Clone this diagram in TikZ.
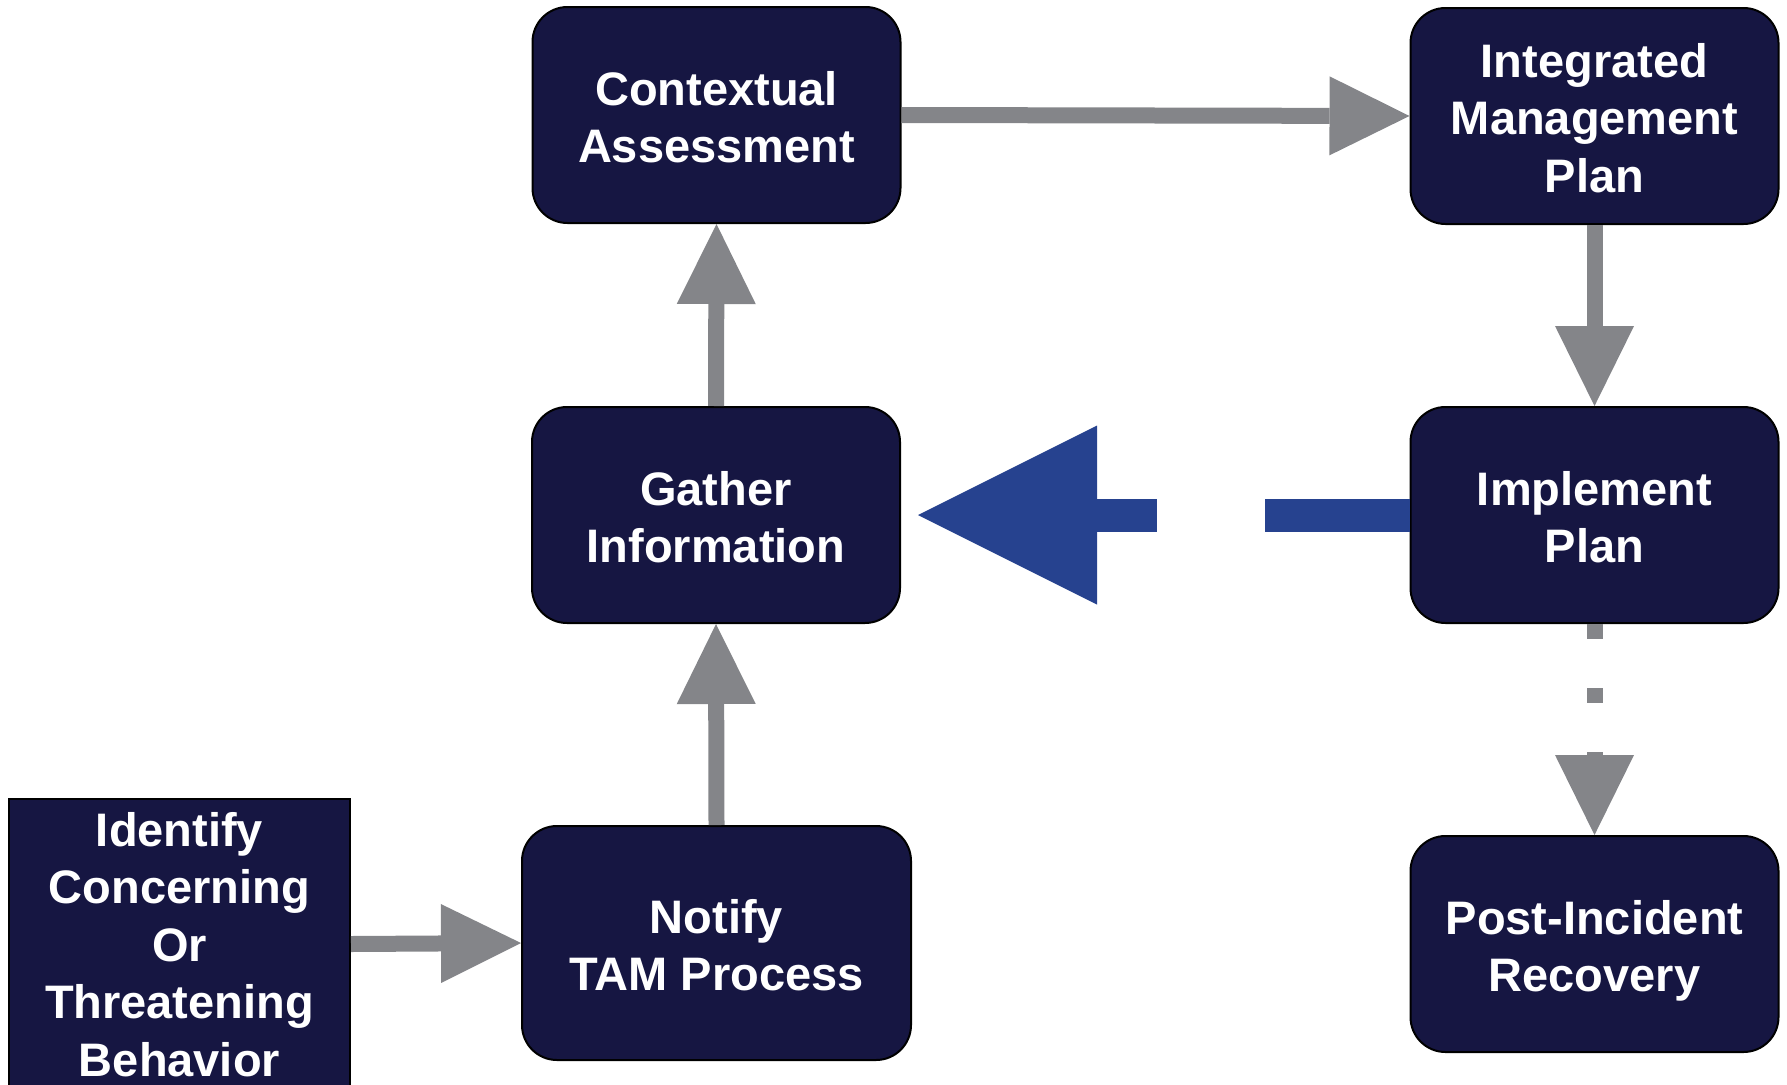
\documentclass[tikz,border=0pt]{standalone}
\usepackage{fontspec}
\setmainfont{Liberation Sans}
\usetikzlibrary{arrows.meta}
\definecolor{navy}{RGB}{22,22,66}
\definecolor{arrgray}{RGB}{132,133,137}
\definecolor{arrblue}{RGB}{38,66,143}
\begin{document}
\begin{tikzpicture}[x=1pt,y=-1pt,
  box/.style={draw=black, line width=2pt, fill=navy, rounded corners=35pt,
    text=white, font=\fontsize{47}{57.5}\selectfont\bfseries, align=center,
    inner sep=0pt, minimum width=368pt, minimum height=216pt, text depth=5pt},
  twolines/.style={text height=100pt},
  threelines/.style={text height=157.5pt},
  fivelines/.style={text height=272.5pt, text depth=8pt},
  garrow/.style={draw=arrgray, line width=16pt,
    -{Triangle[length=80pt,width=79pt,line width=0pt]}},
  barrow/.style={draw=arrblue, line width=33pt,
    -{Triangle[length=179pt,width=179pt,line width=0pt]}}]
\useasboundingbox (0,0) rectangle (1787,1084);
\node[box, twolines] (ctx) at (716.5,115) {Contextual\\Assessment};
\node[box, threelines] (int) at (1594.5,116) {Integrated\\Management\\Plan};
\node[box, twolines] (gath) at (716,515) {Gather\\Information};
\node[box, twolines] (imp) at (1594.5,515) {Implement\\Plan};
\node[box, twolines] (post) at (1594.5,944) {Post-Incident\\Recovery};
\node[box, twolines, minimum width=389pt, minimum height=234pt] (nt) at (716.5,943) {Notify\\TAM Process};
\node[box, fivelines, rounded corners=0pt, minimum width=341pt, minimum height=290pt] (idf) at (179.5,944) {Identify\\Concerning\\Or\\Threatening\\Behavior};
\draw[garrow] (ctx.east) -- (int.west);
\draw[garrow] (int.south) -- (imp.north);
\draw[garrow] (gath.north) -- (ctx.south);
\draw[garrow] (nt.north) -- (gath.south);
\draw[garrow] (idf.east) -- (nt.west);
\draw[garrow, dash pattern=on 15pt off 49pt] (imp.south) -- (post.north);
\draw[barrow, dash pattern=on 145pt off 108pt on 400pt off 0pt] (imp.west) -- ([xshift=17pt]gath.east);
\end{tikzpicture}
\end{document}
